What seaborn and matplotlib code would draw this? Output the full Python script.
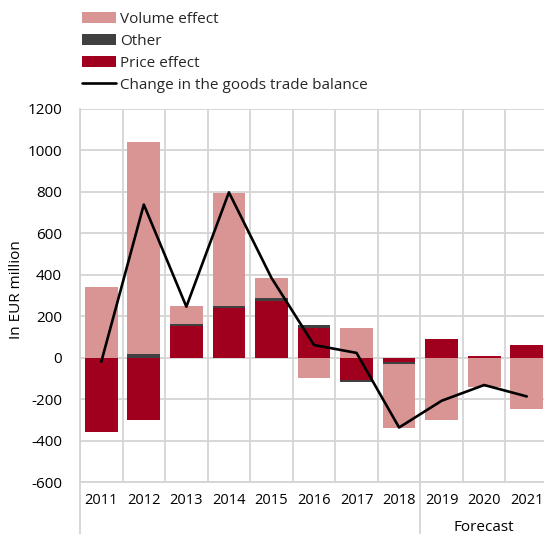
import numpy as np
import pandas as pd
import matplotlib
matplotlib.use("Agg")
import matplotlib.pyplot as plt
import matplotlib.transforms as mtransforms
from matplotlib.patches import Patch
from matplotlib.lines import Line2D
import seaborn as sns

# Decomposition of the change in the goods trade balance (EUR million)
years = ["2011", "2012", "2013", "2014", "2015", "2016",
         "2017", "2018", "2019", "2020", "2021"]
price_effect = [-357, -300, 155, 240, 272, 142, -108, -20, 90, 10, 63]
other = [0, 18, 8, 10, 14, 16, -8, -12, 0, 0, 0]
volume_effect = [340, 1022, 85, 547, 99, -98, 142, -305, -300, -142, -248]
trade_balance = [-20, 739, 246, 798, 385, 61, 23, -337, -208, -132, -187]

yticks = [-600, -400, -200, 0, 200, 400, 600, 800, 1000, 1200]

c_volume = "#D99594"
c_other = "#404040"
c_price = "#A0001E"
c_grid = "#D4D4D4"

sns.set_theme(style="white")
plt.rcParams["font.family"] = ["Open Sans", "DejaVu Sans"]

fig = plt.figure(figsize=(5.44, 5.34), dpi=100)
ax_w = 468
ax = fig.add_axes([80 / 544, 1 - 482 / 534, ax_w / 544, 373 / 534])

# Stack positive parts upward and negative parts downward, in series order
series = [("Price effect", price_effect, c_price),
          ("Other", other, c_other),
          ("Volume effect", volume_effect, c_volume)]
pos_base = np.zeros(len(years))
neg_base = np.zeros(len(years))
for name, vals, col in series:
    v = np.asarray(vals, dtype=float)
    bottom = np.where(v >= 0, pos_base, neg_base)
    df = pd.DataFrame({"year": years, "value": v})
    sns.barplot(data=df, x="year", y="value", order=years, color=col,
                bottom=bottom, width=0.77, errorbar=None, saturation=1,
                linewidth=0, ax=ax, zorder=2)
    pos_base = np.where(v >= 0, pos_base + v, pos_base)
    neg_base = np.where(v < 0, neg_base + v, neg_base)

sns.lineplot(x=np.arange(len(years)), y=trade_balance, color="black",
             linewidth=1.9, ax=ax, zorder=3)

ax.set_xlim(-0.5, len(years) - 0.5)
ax.set_ylim(-600, 1200)
ax.set_yticks(yticks)
ax.set_yticklabels([str(t) for t in yticks])
ax.set_xticks(np.arange(len(years)))
ax.set_xticklabels(years)
ax.set_xticks(np.arange(len(years) + 1) - 0.5, minor=True)

ax.set_axisbelow(True)
ax.grid(False)
ax.yaxis.grid(True, which="major", color=c_grid, linewidth=1.3)
ax.xaxis.grid(True, which="minor", color=c_grid, linewidth=1.3)
for side in ["top", "right"]:
    ax.spines[side].set_visible(False)
for side in ["left", "bottom"]:
    ax.spines[side].set_color(c_grid)
    ax.spines[side].set_linewidth(1.3)

ax.tick_params(axis="both", which="both", length=0, colors="black")
ax.tick_params(axis="x", which="major", pad=8, labelsize=10.5)
ax.tick_params(axis="y", which="major", pad=13, labelsize=11)

ax.set_xlabel("")
ax.set_ylabel("In EUR million", fontsize=11, color="black")
ax.yaxis.set_label_coords((24 - 80) / ax_w, 0.517)

# Group separators under the category axis and the forecast label
trans = mtransforms.blended_transform_factory(ax.transData, ax.transAxes)
for xpos in [-0.5, 7.5]:
    ax.add_line(Line2D([xpos, xpos], [0, -0.3], transform=trans,
                       color=c_grid, linewidth=1.3, clip_on=False))
ax.text(9, -0.121, "Forecast", transform=trans, ha="center", va="center",
        fontsize=11, color="black")

handles = [Patch(facecolor=c_volume, edgecolor="none"),
           Patch(facecolor=c_other, edgecolor="none"),
           Patch(facecolor=c_price, edgecolor="none"),
           Line2D([], [], color="black", linewidth=1.9)]
labels = ["Volume effect", "Other", "Price effect",
          "Change in the goods trade balance"]
fig.legend(handles, labels, loc="upper left",
           bbox_to_anchor=(82 / 544, 1 - 12 / 534), bbox_transform=fig.transFigure,
           frameon=False, fontsize=11, borderpad=0, borderaxespad=0,
           handlelength=2.2, handleheight=0.7, handletextpad=0.3,
           labelspacing=0.45)

fig.savefig("out.png", dpi=100)
